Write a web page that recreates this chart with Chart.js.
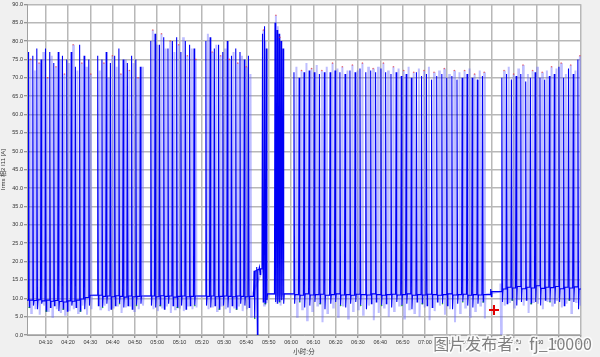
<!DOCTYPE html>
<html><head><meta charset="utf-8">
<script src="https://cdn.jsdelivr.net/npm/chart.js@4.4.1/dist/chart.umd.min.js"></script>
<style>html,body{margin:0;padding:0;background:#f0f0f0;overflow:hidden}#wrap{width:600px;height:357px;position:relative}</style>
</head><body><div id="wrap"><canvas id="c" width="600" height="357"></canvas></div>
<script>
// ---- axis ticks (minutes after 04:00, amperes) ----
const xTickMinutes = [10,20,30,40,50,60,70,80,90,100,110,120,130,140,150,160,170,180,190,200,210,220,230,240,250];
const yTickValues = [0,5,10,15,20,25,30,35,40,45,50,55,60,65,70,75,80,85,90];
const xRange = [1.6, 250];
const yRange = [0, 90];

// ---- dark trace (Irms average): spike time, peak, low after drop, baseline after ----
const darkTime = [
 2.3,4.2,6.0,7.9,9.9,11.8,13.6,15.6,17.5,19.4,21.4,23.3,25.2,27.2,29.3,
 33.3,35.2,37.1,39.0,40.9,42.8,44.7,46.6,48.5,50.4,52.4,
 57.1,59.0,61.0,62.9,64.8,66.8,68.7,70.6,72.6,74.5,76.5,
 81.8,83.7,85.6,87.5,89.4,91.4,93.3,95.2,97.1,99.0,100.9,
 103.4,104.6,105.8,107.2,108.1,108.9,112.8,113.7,114.6,115.5,116.4,
 121.3,123.6,125.8,128.1,130.4,132.7,134.9,137.5,139.7,141.9,144.2,146.4,148.7,150.9,153.5,155.7,157.9,160.3,162.4,164.8,
 167.1,169.4,171.6,173.9,176.2,178.5,180.7,183.0,185.3,187.6,189.8,192.1,194.4,196.7,198.9,201.2,203.5,205.8,209.5,
 214.5,216.6,218.8,220.9,223.0,225.2,227.3,229.4,231.6,233.7,235.8,238.0,240.1,242.2,244.4,246.5,248.6];
const darkPeak = [
 77,76,78,75,78,77,74,77,76,75,77,73,79,76,75,
 76,75,77,74,76,78,75,74,76,75,73,
 80,82,79,81,78,80,81,77,80,79,78,
 80,81,78,79,77,80,76,78,77,75,76,
 17.5,18.5,18.5,82,84,78,85,83,82,80,78,
 71.5,70,71.5,72,71.5,71,71.5,71.5,72,71.5,71,72,71.5,72.5,71.5,72,71.5,72.5,71.5,71,
 71.5,70.5,71,70,71.5,70.5,71,69.5,70.5,71,70,70.5,69.5,70,71,70,69.5,70.5,12.5,
 70,71,69.5,70.5,71,69,70,71.5,70,69.5,70.5,71,73,70,72.5,71,75];
const darkLow = [
 7.5,8,7,8.5,6.5,7.5,8,6.5,7,6.5,8,7.5,6.5,7,8,
 8,7.5,8.5,7,8,8.5,7.5,8,7,8,8.5,
 8,7.5,8,7,8.5,8,7.5,8,7,8,8,
 8,7.5,8,7,8,7.5,8,7,8.5,8,7.5,
 4.5,0,16.5,9,8.5,9.5,9,8.5,9,9.5,8.5,
 8.5,9,7.5,8,9,8.5,7,8.5,9,8,7.5,8.5,9,8,7,8.5,9,8,8.5,7.5,
 9,8,8.5,7,9,8.5,8,7.5,9,8.5,8,7,8.5,9,8,7.5,8.5,9,10.5,
 9,8.5,9.5,8,9,9.5,8.5,9,8,9.5,9,8.5,9,8,9.5,9,7];
const darkBase = [
 9.5,9.4,9.6,9.3,9.5,9.2,9.4,9.1,9.0,9.3,9.2,9.5,9.8,10.2,10.8,
 10.8,10.5,10.6,10.4,10.7,10.5,10.3,10.6,10.4,10.5,10.6,
 10.6,10.4,10.7,10.5,10.6,10.3,10.5,10.6,10.4,10.5,10.6,
 10.5,10.6,10.4,10.5,10.6,10.5,10.4,10.6,10.5,10.4,10.5,
 17.5,17.8,18,10.8,11,11.2,11,10.8,11.2,11,11.2,
 11,10.8,11.2,10.9,11,11.1,10.8,11,11.2,10.9,11,10.8,11.1,11,10.9,11.2,11,10.8,11,11.1,
 10.9,11,11.2,10.8,11,10.9,11.1,11,10.8,11,11.2,10.9,11,11.1,10.8,11,10.9,11,11.8,
 12.5,13,12.8,13.2,12.6,13,12.8,13.4,12.7,13,12.9,13.2,12.6,13,12.8,13.1,12.5];

// ---- light trace (Irms envelope) ----
const lightTime = [
 3.2,5.1,7.0,8.9,10.8,12.7,14.6,16.5,18.4,20.4,22.3,24.2,26.2,28.2,30.2,
 34.2,36.1,38.0,39.9,41.8,43.7,45.6,47.5,49.4,51.4,53.3,
 58.0,60.0,61.9,63.8,65.8,67.7,69.6,71.6,73.5,75.5,77.3,
 82.7,84.6,86.5,88.4,90.4,92.3,94.2,96.1,98.0,99.9,101.8,
 107.6,108.5,113.2,114.1,115.0,
 122.4,124.7,126.9,129.2,131.5,133.8,136.0,138.6,140.8,143.0,145.3,147.5,149.8,152.0,154.6,156.8,159.0,161.4,163.5,
 165.9,168.2,170.5,172.7,175.0,177.3,179.6,181.8,184.1,186.4,188.7,190.9,193.2,195.5,197.8,200.0,202.3,204.6,206.6,
 213.9,215.5,217.6,219.8,221.9,224.0,226.2,228.3,230.4,232.6,234.7,236.8,239.0,241.1,243.2,245.4,247.5,249.5];
const lightPeak = [
 75,72,74,77,70,76,73,75,71,74,79,72,74,73,71,
 72,74,70,76,73,71,75,72,74,70,73,
 83,79,82,78,80,77,79,81,76,78,75,
 82,77,79,76,78,75,77,74,76,73,71,
 83,80,87,84,81,
 73,72,74,72.5,73.5,72,73,74,72.5,73,72,73.5,72,74,73,72.5,73,74,72,
 73,72.5,72,73,71.5,72.5,72,73,71.5,72,72.5,71,72,71.5,72,72.5,71,72,71.5,
 14,72,73,71,72.5,73.5,71,72,73,71.5,72,73,72.5,74,71,73.5,72,76];
const lightLow = [
 6,7,5.5,8,6.5,5,7,6,5.5,6.5,7,6,8,5.5,7,
 7,8,6.5,7.5,8,6,7.5,8,6.5,7,8,
 7,6.5,7.5,8,6,7,7.5,6.5,8,7,7.5,
 7,7.5,6.5,8,7,6,7.5,8,6.5,7,5,
 8,9,8.5,9,8,
 5,7,4,6.5,8,3.5,6,7.5,5,8,4.5,6.5,7,5.5,8,4,6,7.5,5,
 6.5,8,4.5,7,6,5,7.5,4,6.5,8,5.5,7,3.5,6,7.5,5,6.5,8,4.5,
 0,8,9,7.5,9.5,8,6,9,8.5,7,9,8,9.5,7.5,8.5,6,9,8];

// cursor marker (time, value)
const cursorPoint = [211.0, 6.8];

// ---- build line tables from the arrays ----
function baseAt(t){
  let b = darkBase[0];
  for (let i=0;i<darkTime.length;i++){ if (darkTime[i] + 0.55 <= t) b = darkBase[i]; else break; }
  return b;
}
const darkPts = [{x:xRange[0], y:darkBase[0]}];
for (let i=0;i<darkTime.length;i++){
  const prev = i ? darkBase[i-1] : darkBase[0];
  darkPts.push({x:darkTime[i]-0.25, y:prev});
  darkPts.push({x:darkTime[i], y:darkPeak[i]});
  darkPts.push({x:darkTime[i]+0.3, y:darkLow[i]});
  darkPts.push({x:darkTime[i]+0.55, y:darkBase[i]});
}
darkPts.push({x:xRange[1], y:darkBase[darkBase.length-1]});

const lightPts = [];
for (let i=0;i<lightTime.length;i++){
  const b = baseAt(lightTime[i]);
  lightPts.push({x:lightTime[i]-0.2, y:b});
  lightPts.push({x:lightTime[i], y:lightPeak[i]});
  lightPts.push({x:lightTime[i]+0.3, y:lightLow[i]});
  lightPts.push({x:lightTime[i]+0.55, y:baseAt(lightTime[i]+0.55)});
}
const redPts = lightTime.map((t,i)=>({x:t, y:lightPeak[i]})).filter((p,i)=>p.y>20 && i%2===0);
const greenPts = darkTime.map((t,i)=>({x:t+0.3, y:darkLow[i]})).filter((p,i)=>i%4===0);

function timeLabel(v){
  const h = 4 + Math.floor(v/60), m = Math.round(v%60);
  return String(h).padStart(2,'0') + ':' + String(m).padStart(2,'0');
}

Chart.defaults.font.family = '"Liberation Sans","Noto Sans CJK SC",sans-serif';

const bgPlugin = {
  id:'bg',
  beforeDraw(chart){
    const {ctx, chartArea:a} = chart;
    ctx.save();
    ctx.fillStyle = '#f0f0f0';
    ctx.fillRect(0,0,chart.width,chart.height);
    ctx.fillStyle = '#ffffff';
    ctx.fillRect(a.left,a.top,a.right-a.left,a.bottom-a.top);
    ctx.restore();
  },
  afterDraw(chart){
    const ctx = chart.ctx;
    ctx.save();
    ctx.font = '16px "Noto Sans CJK SC", sans-serif';
    ctx.textAlign = 'right';
    ctx.textBaseline = 'middle';
    ctx.lineWidth = 3;
    ctx.strokeStyle = 'rgba(255,255,255,0.8)';
    ctx.strokeText('图片发布者：fj_10000', 592, 344);
    ctx.fillStyle = '#808080';
    ctx.fillText('图片发布者：fj_10000', 592, 344);
    ctx.restore();
  }
};

new Chart(document.getElementById('c'), {
  type:'line',
  data:{datasets:[
    {label:'cursor', type:'scatter', data:[{x:cursorPoint[0], y:cursorPoint[1]}], pointStyle:'cross', pointRadius:5, borderColor:'#e00000', borderWidth:2, order:0},
    {label:'max', type:'scatter', data:redPts, pointRadius:0.8, pointBackgroundColor:'rgba(235,50,50,0.7)', pointBorderWidth:0, order:1},
    {label:'min', type:'scatter', data:greenPts, pointRadius:0.8, pointBackgroundColor:'rgba(0,190,0,0.7)', pointBorderWidth:0, order:2},
    {label:'avg', data:darkPts, borderColor:'#0000f5', borderWidth:1.1, pointRadius:0, tension:0, order:3},
    {label:'env', data:lightPts, borderColor:'rgba(100,100,255,0.42)', borderWidth:2, pointRadius:0, tension:0, order:4}
  ]},
  options:{
    animation:false, responsive:false, events:[],
    layout:{autoPadding:false, padding:{top:4, right:19, left:0, bottom:0}},
    plugins:{legend:{display:false}, tooltip:{enabled:false}},
    scales:{
      x:{type:'linear', min:xRange[0], max:xRange[1],
        afterBuildTicks:s=>{s.ticks = xTickMinutes.map(v=>({value:v}));},
        afterFit:s=>{s.height = 22;},
        ticks:{callback:v=>timeLabel(v), font:{size:5.5}, color:'#333', maxRotation:0, autoSkip:false, padding:1},
        grid:{color:'#b8b8b8', lineWidth:1.5, tickLength:3, tickColor:'#777', tickWidth:1},
        border:{color:'#a0a0a0', width:1},
        title:{display:true, text:'小时:分', font:{size:6.5}, color:'#333', padding:{top:0,bottom:1}}
      },
      y:{min:yRange[0], max:yRange[1],
        afterBuildTicks:s=>{s.ticks = yTickValues.map(v=>({value:v}));},
        afterFit:s=>{s.width = 27;},
        ticks:{callback:v=>Number(v).toFixed(1), font:{size:5.5}, color:'#333', padding:1},
        grid:{color:'#b8b8b8', lineWidth:1.5, tickLength:3, tickColor:'#777', tickWidth:1},
        border:{color:'#a0a0a0', width:1},
        title:{display:true, text:'Irms 相2 I11 [A]', font:{size:6}, color:'#333', padding:{top:0,bottom:2}}
      }
    }
  },
  plugins:[bgPlugin]
});
</script></body></html>
